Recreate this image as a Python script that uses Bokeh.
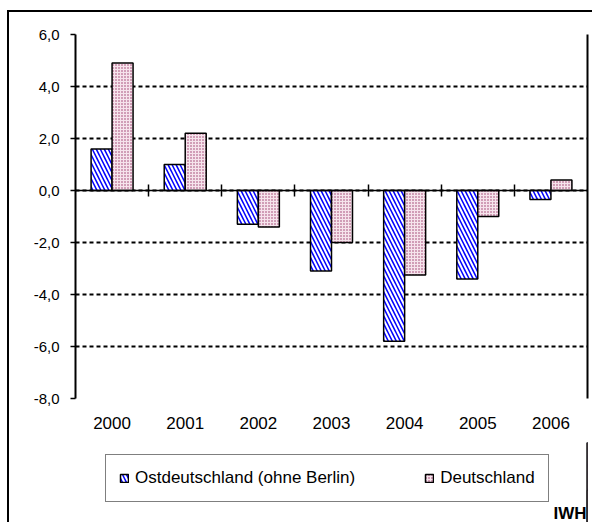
import numpy as np
from bokeh.plotting import figure
from bokeh.layouts import column
from bokeh.models import Range1d, FixedTicker, LinearAxis, Legend, LegendItem, Label
from bokeh.embed import file_html
from bokeh.resources import INLINE

# ---- data ----
years = ["2000", "2001", "2002", "2003", "2004", "2005", "2006"]
ost = [1.6, 1.0, -1.3, -3.1, -5.8, -3.4, -0.35]
de = [4.9, 2.2, -1.4, -2.0, -3.25, -1.0, 0.4]
y_ticks = [-8, -6, -4, -2, 0, 2, 4, 6]
y_tick_labels = ["-8,0", "-6,0", "-4,0", "-2,0", "0,0", "2,0", "4,0", "6,0"]
series_names = ["Ostdeutschland (ohne Berlin)", "Deutschland"]
source_label = "IWH"

FONT = "Liberation Sans"

ost_style = dict(fill_color="white", line_color="black", line_width=1.5,
                 hatch_pattern="left_diagonal_line", hatch_color="#0000FF",
                 hatch_weight=1.5, hatch_scale=8)
de_style = dict(fill_color="#F6E4EC", line_color="black", line_width=1.5,
                hatch_pattern="dot", hatch_color="#993366",
                hatch_weight=1.5, hatch_scale=3)

xs = np.arange(1, len(years) + 1)
bar_w = 0.287

# ---------------- main chart ----------------
p = figure(
    width=585, height=432,
    x_range=Range1d(0.5, len(years) + 0.5),
    y_range=Range1d(y_ticks[0], y_ticks[-1]),
    output_backend="svg", toolbar_location=None,
    min_border_left=66, min_border_right=7, min_border_top=22, min_border_bottom=46,
    styles={"border-left": "2px solid black", "border-top": "2px solid black"},
)
p.outline_line_color = None
p.background_fill_color = "white"
p.border_fill_color = "white"

r_ost = p.vbar(x=xs - bar_w / 2, top=ost, bottom=0, width=bar_w, **ost_style)
r_de = p.vbar(x=xs + bar_w / 2, top=de, bottom=0, width=bar_w, **de_style)

# y axis
yt = FixedTicker(ticks=y_ticks)
p.yaxis.ticker = yt
p.yaxis.major_label_overrides = {t: l for t, l in zip(y_ticks, y_tick_labels)}
p.yaxis.axis_line_width = 2
p.yaxis.axis_line_color = "black"
p.yaxis.major_tick_out = 5
p.yaxis.major_tick_in = 0
p.yaxis.major_tick_line_width = 1.5
p.yaxis.minor_tick_line_color = None
p.yaxis.major_label_standoff = 11
p.yaxis.major_label_text_font = FONT
p.yaxis.major_label_text_font_size = "15px"
p.yaxis.major_label_text_color = "black"

# grid
p.xgrid.grid_line_color = None
p.ygrid.ticker = yt
p.ygrid.grid_line_color = "black"
p.ygrid.grid_line_dash = "4 3"
p.ygrid.grid_line_width = 2

# x axis labels (below the plot)
p.xaxis.ticker = FixedTicker(ticks=list(xs))
p.xaxis.major_label_overrides = {int(x): y for x, y in zip(xs, years)}
p.xaxis.axis_line_color = None
p.xaxis.major_tick_line_color = None
p.xaxis.major_tick_out = 0
p.xaxis.major_tick_in = 0
p.xaxis.minor_tick_line_color = None
p.xaxis.major_label_standoff = 18
p.xaxis.major_label_text_font = FONT
p.xaxis.major_label_text_font_size = "17px"
p.xaxis.major_label_text_color = "black"

# category axis crossing at zero with boundary ticks
zero_axis = LinearAxis(fixed_location=0,
                       ticker=FixedTicker(ticks=list(xs[:-1] + 0.5)),
                       axis_line_width=1.5, axis_line_color="black",
                       major_tick_in=6, major_tick_out=6,
                       major_tick_line_width=1.5,
                       minor_tick_line_color=None,
                       major_label_standoff=0,
                       major_label_text_font_size="1px",
                       major_label_text_color=None)
p.add_layout(zero_axis, "above")

# right border
right_axis = LinearAxis(axis_line_width=2, axis_line_color="black",
                        major_tick_out=0, major_tick_in=0,
                        major_tick_line_color=None, minor_tick_line_color=None,
                        major_label_standoff=0,
                        major_label_text_color=None, major_label_text_font_size="1px")
p.add_layout(right_axis, "right")

# ---------------- legend strip ----------------
q = figure(
    width=585, height=80,
    x_range=Range1d(-1, 0), y_range=Range1d(0, 1),
    output_backend="svg", toolbar_location=None,
    x_axis_location=None, y_axis_location=None,
    min_border=0,
    styles={"border-left": "2px solid black"},
)
q.outline_line_color = None
q.grid.grid_line_color = None
q.background_fill_color = "white"
q.border_fill_color = "white"

# same series, outside this strip's visible range: only feed the legend swatches
k_ost = q.vbar(x=xs - bar_w / 2, top=ost, bottom=0, width=bar_w, **ost_style)
k_de = q.vbar(x=xs + bar_w / 2, top=de, bottom=0, width=bar_w, **de_style)

legend = Legend(
    items=[LegendItem(label=series_names[0], renderers=[k_ost]),
           LegendItem(label=series_names[1], renderers=[k_de])],
    orientation="horizontal",
    location=(30, 20),
    glyph_width=10, glyph_height=10,
    label_standoff=6, spacing=69, padding=13, margin=0,
    label_text_font=FONT, label_text_font_size="17px", label_text_color="black",
    border_line_color="black", border_line_width=1.5,
    background_fill_color="white", background_fill_alpha=1.0,
)
q.add_layout(legend, "center")

q.add_layout(Label(x=511, y=9, x_units="screen", y_units="screen",
                   text=source_label, text_align="right", text_baseline="middle",
                   text_font=FONT, text_font_size="17px", text_font_style="bold",
                   text_color="black"))

layout = column(p, q, spacing=0,
                styles={"padding-left": "7px", "padding-top": "10px"})

open("out.html", "w").write(file_html(layout, INLINE))
